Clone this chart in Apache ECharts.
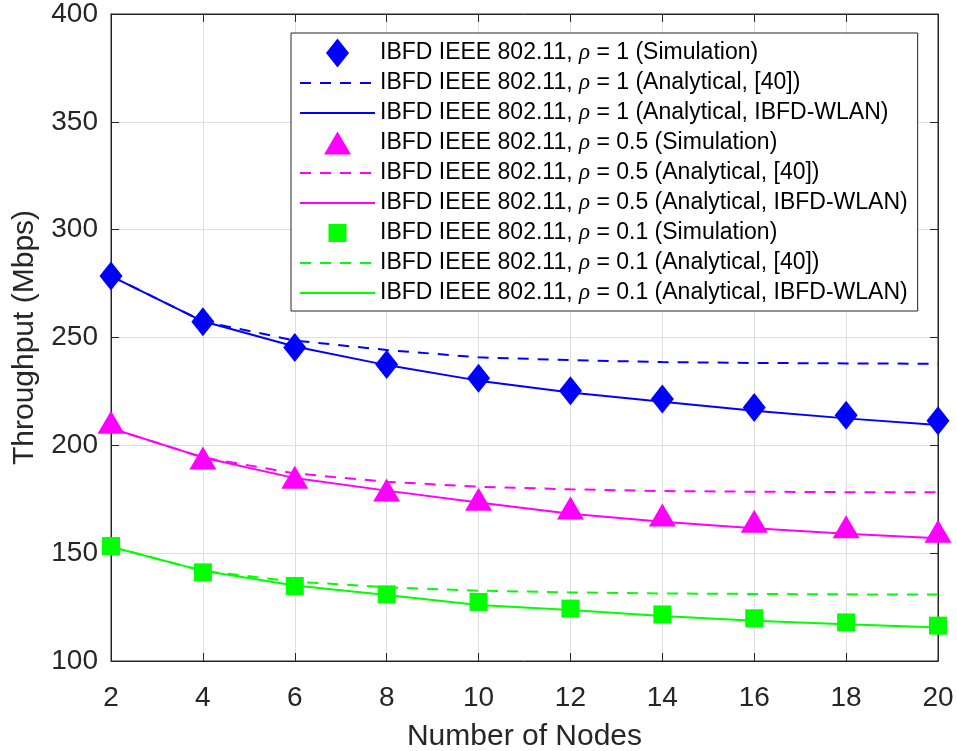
<!DOCTYPE html>
<html>
<head>
<meta charset="utf-8">
<script src="https://cdn.jsdelivr.net/npm/echarts@6/dist/echarts.min.js"></script>
<style>
  html, body { margin: 0; padding: 0; background: #fff; }
  #chart { width: 957px; height: 751px; }
</style>
</head>
<body>
<div id="chart"></div>
<script>
// Number of nodes on the x axis
const nodes = [2, 4, 6, 8, 10, 12, 14, 16, 18, 20];

// rho = 1
const simRho1 = [278.5, 257.3, 245.4, 237.5, 231.1, 225.3, 221.5, 217.6, 214.0, 211.4];
const ana40Rho1 = [278.5, 257.5, 248.6, 244.2, 240.8, 239.5, 238.6, 238.2, 238.0, 237.8];
const anaWlanRho1 = [278.5, 257.5, 245.8, 237.2, 230.0, 224.5, 220.2, 216.0, 212.5, 209.4];

// rho = 0.5
const simRho05 = [210.7, 194.1, 185.2, 179.3, 175.0, 171.0, 167.7, 164.8, 162.3, 160.2];
const ana40Rho05 = [207.9, 194.4, 187.0, 183.1, 180.8, 179.6, 178.8, 178.5, 178.3, 178.2];
const anaWlanRho05 = [207.9, 194.4, 184.8, 179.0, 173.5, 168.3, 164.6, 161.5, 159.0, 156.9];

// rho = 0.1
const simRho01 = [153.3, 141.1, 134.8, 130.9, 127.4, 124.3, 121.6, 119.8, 117.9, 116.4];
const ana40Rho01 = [153.0, 141.8, 136.8, 134.2, 132.6, 131.8, 131.3, 131.1, 130.9, 130.8];
const anaWlanRho01 = [153.0, 141.8, 135.0, 130.6, 126.0, 123.6, 120.9, 118.7, 117.0, 115.5];

// Axis ticks
const xTicks = { min: 2, max: 20, step: 2 };
const yTicks = { min: 100, max: 400, step: 50 };

const seriesNames = [
  'IBFD IEEE 802.11, ρ = 1 (Simulation)',
  'IBFD IEEE 802.11, ρ = 1 (Analytical, [40])',
  'IBFD IEEE 802.11, ρ = 1 (Analytical, IBFD-WLAN)',
  'IBFD IEEE 802.11, ρ = 0.5 (Simulation)',
  'IBFD IEEE 802.11, ρ = 0.5 (Analytical, [40])',
  'IBFD IEEE 802.11, ρ = 0.5 (Analytical, IBFD-WLAN)',
  'IBFD IEEE 802.11, ρ = 0.1 (Simulation)',
  'IBFD IEEE 802.11, ρ = 0.1 (Analytical, [40])',
  'IBFD IEEE 802.11, ρ = 0.1 (Analytical, IBFD-WLAN)'
];

const BLUE = '#0000ff', MAGENTA = '#ff00ff', GREEN = '#00ff00';
const INK = '#262626';
const FONT = '"Liberation Sans", Arial, Helvetica, sans-serif';

function pairs(ys) { return nodes.map((x, i) => [x, ys[i]]); }

function markerSeries(name, ys, color, symbol, size) {
  return {
    name, type: 'line', data: pairs(ys), z: 5,
    symbol, symbolSize: size, showSymbol: true,
    lineStyle: { width: 0, opacity: 0 },
    itemStyle: { color },
    emphasis: { disabled: true }, animation: false
  };
}
function lineSeries(name, ys, color, dashed) {
  return {
    name, type: 'line', data: pairs(ys), z: 3,
    symbol: 'none',
    lineStyle: { width: 2, color, type: dashed ? [11, 9] : 'solid' },
    itemStyle: { color },
    emphasis: { disabled: true }, animation: false
  };
}

// Legend key shapes, padded to the 75x30 key box so they keep their size
const keyDiamond = 'path://M0,0M75,30M37.5,0.5L49,15L37.5,29.5L26,15Z';
const keyTriangle = 'path://M0,0M75,30M37.5,3.5L51,26.5L24,26.5Z';
const keySquare = 'path://M0,0M75,30M28.5,6L46.5,6L46.5,24L28.5,24Z';
const keyIcons = [keyDiamond, null, null, keyTriangle, null, null, keySquare, null, null];

const chart = echarts.init(document.getElementById('chart'), null, { renderer: 'canvas' });

const hiddenAxis = (pos, base) => Object.assign({}, base, {
  position: pos,
  axisLabel: { show: false },
  splitLine: { show: false },
  name: ''
});

const xBase = {
  type: 'value', min: xTicks.min, max: xTicks.max, interval: xTicks.step,
  axisLine: { show: true, onZero: false, lineStyle: { color: INK, width: 1 } },
  axisTick: { show: true, inside: true, length: 8, lineStyle: { color: INK } },
  splitLine: { show: true, lineStyle: { color: '#dfdfdf', width: 1 } },
  axisLabel: { color: INK, fontSize: 28, fontFamily: FONT, margin: 23 }
};
const yBase = {
  type: 'value', min: yTicks.min, max: yTicks.max, interval: yTicks.step,
  axisLine: { show: true, onZero: false, lineStyle: { color: INK, width: 1 } },
  axisTick: { show: true, inside: true, length: 8, lineStyle: { color: INK } },
  splitLine: { show: true, lineStyle: { color: '#dfdfdf', width: 1 } },
  axisLabel: { color: INK, fontSize: 28, fontFamily: FONT, margin: 13 }
};

chart.setOption({
  animation: false,
  backgroundColor: '#ffffff',
  grid: {
    left: 111, right: 19, top: 14, bottom: 90,
    containLabel: false, outerBoundsMode: 'none',
    show: true, borderColor: INK, borderWidth: 1, backgroundColor: 'transparent'
  },
  xAxis: [
    Object.assign({}, xBase, {
      position: 'bottom',
      name: 'Number of Nodes', nameLocation: 'middle', nameGap: 61,
      nameTextStyle: { color: INK, fontSize: 30, fontFamily: FONT }
    }),
    hiddenAxis('top', xBase)
  ],
  yAxis: [
    Object.assign({}, yBase, {
      position: 'left',
      name: 'Throughput (Mbps)', nameLocation: 'middle', nameGap: 71,
      nameTextStyle: { color: INK, fontSize: 30, fontFamily: FONT }
    }),
    hiddenAxis('right', yBase)
  ],
  legend: {
    orient: 'vertical',
    left: 291, top: 33,
    padding: [5, 10, 3, 8],
    itemGap: 0,
    itemWidth: 75, itemHeight: 30,
    backgroundColor: '#ffffff',
    borderColor: INK, borderWidth: 1,
    selectedMode: false,
    textStyle: {
      color: '#000000', fontSize: 23, fontFamily: FONT, lineHeight: 30,
      rich: { r: { fontSize: 23, lineHeight: 30, fontStyle: 'italic', fontFamily: '"Liberation Serif", "Times New Roman", serif', color: '#000000' } }
    },
    formatter: (n) => n.replace('ρ', '{r|ρ}'),
    data: seriesNames.map((n, i) => keyIcons[i]
      ? { name: n, icon: keyIcons[i] }
      : { name: n, itemStyle: { opacity: 0 } })
  },
  series: [
    markerSeries(seriesNames[0], simRho1, BLUE, 'diamond', [23, 29]),
    lineSeries(seriesNames[1], ana40Rho1, BLUE, true),
    lineSeries(seriesNames[2], anaWlanRho1, BLUE, false),
    markerSeries(seriesNames[3], simRho05, MAGENTA, 'triangle', [27, 23]),
    lineSeries(seriesNames[4], ana40Rho05, MAGENTA, true),
    lineSeries(seriesNames[5], anaWlanRho05, MAGENTA, false),
    markerSeries(seriesNames[6], simRho01, GREEN, 'rect', [18, 18]),
    lineSeries(seriesNames[7], ana40Rho01, GREEN, true),
    lineSeries(seriesNames[8], anaWlanRho01, GREEN, false)
  ]
});
</script>
</body>
</html>
